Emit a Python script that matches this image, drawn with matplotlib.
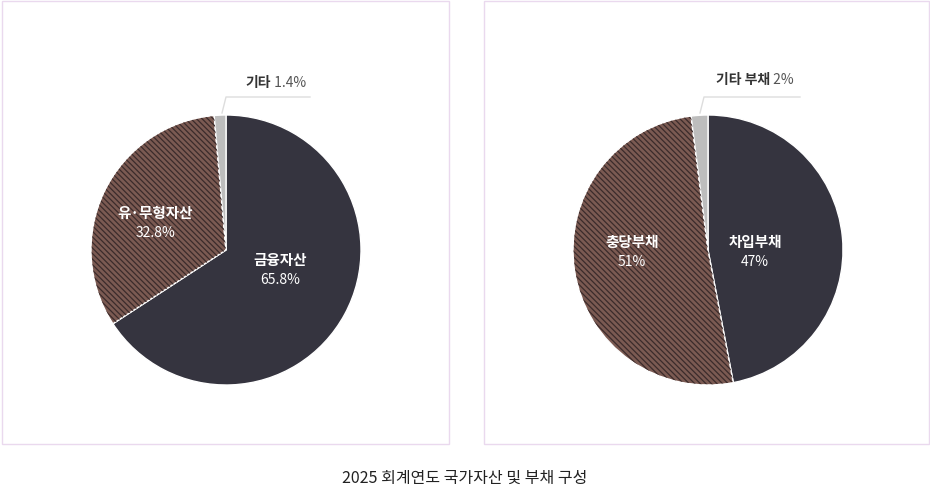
import matplotlib
matplotlib.use("Agg")
import matplotlib.pyplot as plt
from matplotlib.patches import Rectangle

plt.rcParams['font.family'] = ['Noto Sans CJK KR', 'DejaVu Sans']
plt.rcParams['hatch.linewidth'] = 0.9

asset_labels = ['금융자산', '유·무형자산', '기타']
asset_values = [65.8, 32.8, 1.4]
asset_pct = ['65.8%', '32.8%', '1.4%']
debt_labels = ['차입부채', '충당부채', '기타 부채']
debt_values = [47, 51, 2]
debt_pct = ['47%', '51%', '2%']
title = '2025 회계연도 국가자산 및 부채 구성'

W, H = 930, 494
fig = plt.figure(figsize=(9.3, 4.94), dpi=100)
fig.patch.set_facecolor('white')

for x0, x1 in [(2, 449), (484, 929)]:
    fig.patches.append(Rectangle((x0 / W, 1 - 444 / H), (x1 - x0) / W, 443 / H,
                                 transform=fig.transFigure, fill=False,
                                 edgecolor='#ead9ee', linewidth=1))

dark = '#35343f'
brown = '#7b5a52'
hatchc = '#3b2b2b'
grey = '#bdbdbd'

def draw(cx, values, labels, pcts, pos_main, pos_other, other_lbl, leader):
    r = 135
    ax = fig.add_axes([(cx - r) / W, 1 - (250 + r) / H, 2 * r / W, 2 * r / H])
    colors = [dark, brown, grey]
    ax.pie(values, colors=colors, startangle=90, counterclock=False,
           radius=1, wedgeprops=dict(edgecolor='white', linewidth=1))
    ax.pie(values, colors=['none'] * 3, startangle=90, counterclock=False, radius=0.995,
           hatch=[None, '\\\\\\\\\\\\', None],
           wedgeprops=dict(edgecolor=hatchc, linewidth=0))
    ax.set_xlim(-1, 1); ax.set_ylim(-1, 1); ax.set_aspect('equal'); ax.axis('off')
    def d(px, py):
        return ((px - cx) / r, (250 - py) / r)
    for i in range(2):
        (px, py) = pos_main[i]
        ax.text(*d(px, py), labels[i], ha='center', va='center', color='white',
                fontsize=10.5, fontweight='bold')
        ax.text(*d(px, py + 20), pcts[i], ha='center', va='center', color='white',
                fontsize=10)
    xs = [d(*p)[0] for p in leader]; ys = [d(*p)[1] for p in leader]
    ax.plot(xs, ys, color='#dddddd', lw=1, clip_on=False)
    x, y = d(*pos_other)
    t = ax.text(x, y, other_lbl, ha='left', va='center', color='#333333',
                fontsize=10, fontweight='bold')
    fig.canvas.draw()
    bb = t.get_window_extent()
    ax.annotate(' ' + pcts[2], xy=(bb.x1, (bb.y0 + bb.y1) / 2), xycoords='figure pixels',
                ha='left', va='center', color='#555555', fontsize=10)

draw(226, asset_values, asset_labels, asset_pct,
     [(280, 260), (155, 213)], (245, 83), '기타',
     [(222, 113), (226, 97), (310, 97)])
draw(708, debt_values, debt_labels, debt_pct,
     [(755, 242), (632, 242)], (716, 80), '기타 부채',
     [(700, 113), (704, 97), (800, 97)])

fig.text(465 / W, 1 - 478 / H, title, ha='center', va='center', fontsize=11.5, color='#222222')
fig.savefig('out.png', dpi=100)
